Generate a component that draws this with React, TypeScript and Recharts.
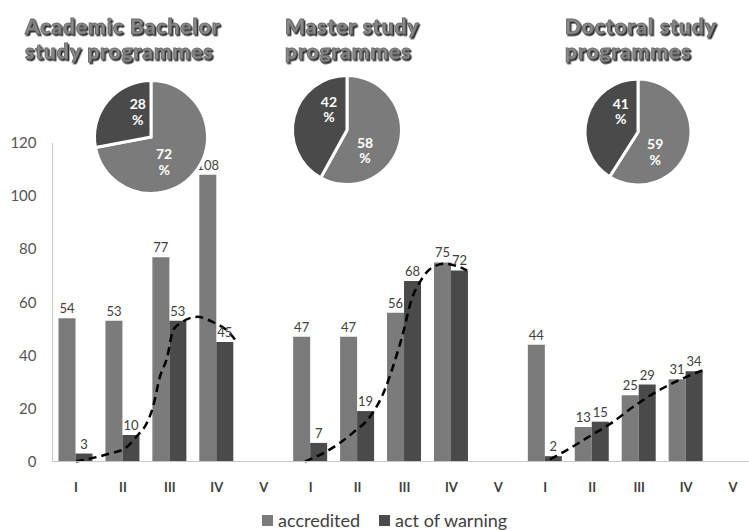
import React from 'react';
import {
  ComposedChart,
  Bar,
  Line,
  XAxis,
  YAxis,
  LabelList,
  Legend,
  PieChart,
  Pie,
  Cell,
} from 'recharts';

// ---------- data ----------
const categories = ['I', 'II', 'III', 'IV', 'V', 'I', 'II', 'III', 'IV', 'V', 'I', 'II', 'III', 'IV', 'V'];
const accredited = [54, 53, 77, 108, null, 47, 47, 56, 75, null, 44, 13, 25, 31, null];
const actOfWarning = [3, 10, 53, 45, null, 7, 19, 68, 72, null, 2, 15, 29, 34, null];
const yTicks = [0, 20, 40, 60, 80, 100, 120];

// dashed trend curves (x in category units, y in values)
const trendBachelorX = [0.5, 1.22, 1.55, 1.82, 2.01, 2.14, 2.29, 2.44, 2.57, 2.76, 3.08, 3.42, 3.74, 3.93];
const trendBachelorY = [0, 3, 5, 10, 14.5, 20.5, 32, 39, 49.5, 52.5, 54.5, 52.5, 49, 45];
const trendMasterX = [5.38, 5.84, 6.4, 6.77, 7.08, 7.26, 7.47, 7.65, 7.83, 8.08, 8.36, 8.64, 8.83];
const trendMasterY = [0, 3.8, 10.8, 17, 27, 36, 48.4, 61, 67.7, 73, 74.5, 73.5, 72];
const trendDoctoralX = [10.6, 10.96, 11.38, 11.95, 12.38, 12.87, 13.37, 13.8, 13.94];
const trendDoctoralY = [0.8, 4.3, 8.8, 15, 20.7, 26.3, 30.8, 34, 34.8];

const seriesNames = ['accredited', 'act of warning'];
const pieBachelor = [72, 28];
const pieMaster = [58, 42];
const pieDoctoral = [59, 41];
const titleBachelor = ['Academic Bachelor', 'study programmes'];
const titleMaster = ['Master study', 'programmes'];
const titleDoctoral = ['Doctoral study', 'programmes'];

// ---------- styles ----------
const FONT = "Lato, 'Open Sans', 'DejaVu Sans', sans-serif";
const ACC = '#7b7b7b';
const WARN = '#4a4a4a';
const TEXT = '#404040';

const barData = categories.map((cat, i) => ({
  cat,
  accredited: accredited[i],
  warning: actOfWarning[i],
}));

const toPoints = (xs: number[], ys: number[]) => xs.map((x, i) => ({ x, y: ys[i] }));
const trends = [
  toPoints(trendBachelorX, trendBachelorY),
  toPoints(trendMasterX, trendMasterY),
  toPoints(trendDoctoralX, trendDoctoralY),
];

const RAD = Math.PI / 180;
const renderPieLabel = (props: any) => {
  const { cx, cy, midAngle, outerRadius, value } = props;
  const m = ((((Number(midAngle) % 360) + 540) % 360) - 180);
  const target = m > 0 ? 90 : -90;
  const ang = m + 0.45 * (target - m);
  const r = outerRadius * 0.5;
  const x = Number(cx) + r * Math.cos(-ang * RAD);
  const y = Number(cy) + r * Math.sin(-ang * RAD);
  return (
    <text x={x} y={y} textAnchor="middle" fill="#ffffff" fontFamily={FONT} fontWeight={700} fontSize={14}>
      <tspan x={x} dy="-0.2em">{value}</tspan>
      <tspan x={x} dy="1.1em">%</tspan>
    </text>
  );
};

const SIZE = 150;
const PieBlock = ({ values, cx, cy, r }: { values: number[]; cx: number; cy: number; r: number }) => {
  const data = values.map((v, i) => ({ name: seriesNames[i], value: v }));
  return (
    <div style={{ position: 'absolute', left: cx - SIZE / 2, top: cy - SIZE / 2, width: SIZE, height: SIZE }}>
      <PieChart width={SIZE} height={SIZE} margin={{ top: 0, right: 0, bottom: 0, left: 0 }}>
        <Pie
          data={data}
          dataKey="value"
          cx={SIZE / 2}
          cy={SIZE / 2}
          outerRadius={r}
          startAngle={90}
          endAngle={-270}
          stroke="#ffffff"
          strokeWidth={3}
          label={renderPieLabel}
          labelLine={false}
          isAnimationActive={false}
        >
          <Cell fill={ACC} />
          <Cell fill={WARN} />
        </Pie>
      </PieChart>
    </div>
  );
};

const Title = ({ lines, x }: { lines: string[]; x: number }) => (
  <g fontFamily={FONT} fontWeight={900} fontSize={21} letterSpacing={0.9} filter="url(#titleShadow)">
    {lines.map((t, i) => (
      <text key={i} x={x} y={34 + i * 25} fill="#8a8a8a" stroke="#6a6a6a" strokeWidth={0.9}>{t}</text>
    ))}
  </g>
);

const renderLegend = (props: any) => {
  const { payload } = props;
  return (
    <div style={{ display: 'flex', alignItems: 'center', height: 20, fontFamily: FONT, fontSize: 18, color: TEXT }}>
      {(payload || []).filter((p: any) => p.type !== 'none').map((p: any, i: number) => (
        <div key={i} style={{ display: 'flex', alignItems: 'center', marginRight: 19 }}>
          <span style={{ display: 'inline-block', width: 11, height: 11, background: p.color, marginRight: 5 }} />
          <span>{p.value}</span>
        </div>
      ))}
    </div>
  );
};

export default function App() {
  return (
    <div style={{ position: 'absolute', left: 0, top: 0, width: 749, height: 530, overflow: 'hidden', background: '#fff' }}>
      <div style={{ position: 'absolute', left: 0, top: 0 }}>
        <ComposedChart
          width={760}
          height={530}
          data={barData}
          margin={{ top: 143, right: 3.5, bottom: 0, left: 0 }}
          barGap={0}
          barSize={17}
        >
          <XAxis
            xAxisId="cat"
            dataKey="cat"
            interval={0}
            tickLine={false}
            tickSize={0}
            tickMargin={21}
            height={48.5}
            axisLine={{ stroke: '#c8c8c8' }}
            tick={{ fill: TEXT, fontSize: 13, fontWeight: 700, fontFamily: FONT }}
          />
          <XAxis xAxisId="num" type="number" dataKey="x" domain={[0, 15]} allowDataOverflow hide />
          <YAxis
            domain={[0, 120]}
            ticks={yTicks}
            width={52.5}
            tickLine={false}
            tickSize={0}
            tickMargin={16}
            axisLine={{ stroke: '#c8c8c8' }}
            tick={{ fill: '#555555', fontSize: 15, fontFamily: FONT }}
          />
          <Bar xAxisId="cat" dataKey="accredited" name={seriesNames[0]} fill={ACC} isAnimationActive={false}>
            <LabelList dataKey="accredited" position="top" fill={TEXT} fontSize={13} fontFamily={FONT} />
          </Bar>
          <Bar xAxisId="cat" dataKey="warning" name={seriesNames[1]} fill={WARN} isAnimationActive={false}>
            <LabelList dataKey="warning" position="top" fill={TEXT} fontSize={13} fontFamily={FONT} />
          </Bar>
          {trends.map((d, i) => (
            <Line
              key={i}
              xAxisId="num"
              data={d}
              dataKey="y"
              type="monotone"
              stroke="#000000"
              strokeWidth={2.5}
              strokeDasharray="8 5"
              dot={false}
              activeDot={false}
              legendType="none"
              isAnimationActive={false}
            />
          ))}
          <Legend
            verticalAlign="bottom"
            content={renderLegend}
            wrapperStyle={{ left: 262, width: 'auto' }}
          />
        </ComposedChart>
      </div>
      <PieBlock values={pieBachelor} cx={151} cy={137} r={56.5} />
      <PieBlock values={pieMaster} cx={347} cy={130} r={54.5} />
      <PieBlock values={pieDoctoral} cx={638} cy={132} r={53} />
      <svg width={749} height={80} style={{ position: 'absolute', left: 0, top: 0, pointerEvents: 'none' }}>
        <defs>
          <filter id="titleShadow" x="-5%" y="-20%" width="110%" height="140%">
            <feDropShadow dx={1.4} dy={1.6} stdDeviation={0.5} floodColor="#2a2a2a" floodOpacity={1} />
          </filter>
        </defs>
        <Title lines={titleBachelor} x={25} />
        <Title lines={titleMaster} x={285} />
        <Title lines={titleDoctoral} x={565} />
      </svg>
    </div>
  );
}
